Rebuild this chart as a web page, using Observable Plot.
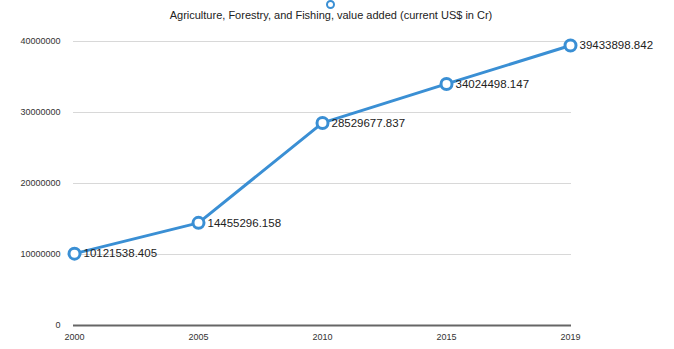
<!DOCTYPE html>
<html>
<head>
<meta charset="utf-8">
<script src="https://cdn.jsdelivr.net/npm/d3@7"></script>
<script src="https://cdn.jsdelivr.net/npm/@observablehq/plot@0.6"></script>
<style>
  html, body { margin: 0; padding: 0; background: #fff; }
  #wrap { width: 674px; height: 349px; position: relative; font-family: "Liberation Sans", Arial, sans-serif; }
  #legend { height: 28px; position: relative; }
  #legend .dot { position: absolute; left: 326px; top: 0px; width: 5px; height: 5px; border: 2px solid #3a8fd4; border-radius: 50%; background: #fff; }
  #legend .title { position: absolute; left: 0; width: 662px; top: 9px; text-align: center; font-size: 11px; color: #222; }
</style>
</head>
<body>
<div id="wrap">
  <div id="legend"><div class="dot"></div><div class="title">Agriculture, Forestry, and Fishing, value added (current US$ in Cr)</div></div>
  <div id="chart"></div>
</div>
<script>
const years = ["2000", "2005", "2010", "2015", "2019"];
const values = [10121538.405, 14455296.158, 28529677.837, 34024498.147, 39433898.842];
const labels = ["10121538.405", "14455296.158", "28529677.837", "34024498.147", "39433898.842"];
const yTicks = [0, 10000000, 20000000, 30000000, 40000000];

const data = years.map((y, i) => ({year: y, value: values[i], label: labels[i]}));
const blue = "#3a8fd4";

const chart = Plot.plot({
  width: 674,
  height: 321,
  marginLeft: 73,
  marginRight: 103,
  marginTop: 13,
  marginBottom: 24,
  style: {fontFamily: "Liberation Sans, Arial, sans-serif", fontSize: "9px", color: "#333", background: "#fff"},
  x: {type: "point", domain: years, padding: 0, label: null, tickSize: 0, tickPadding: 8},
  y: {domain: [0, 40000000], ticks: yTicks, tickFormat: d => String(d), label: null, tickSize: 0, tickPadding: 13},
  marks: [
    Plot.ruleY(yTicks.filter(d => d > 0), {stroke: "#d8d8d8", strokeWidth: 1}),
    Plot.ruleY([0], {stroke: "#666", strokeWidth: 2}),
    Plot.line(data, {x: "year", y: "value", stroke: blue, strokeWidth: 3}),
    Plot.dot(data, {x: "year", y: "value", r: 5.5, stroke: blue, strokeWidth: 3, fill: "#fff"}),
    Plot.text(data, {x: "year", y: "value", text: "label", textAnchor: "start", dx: 9, fontSize: 11.5, fill: "#222"})
  ]
});
document.getElementById("chart").appendChild(chart);
</script>
</body>
</html>
